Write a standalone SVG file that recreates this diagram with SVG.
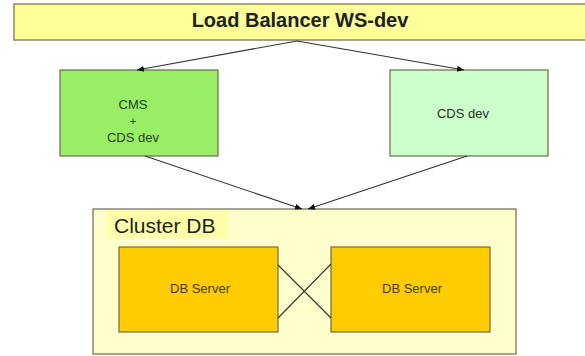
<svg xmlns="http://www.w3.org/2000/svg" width="585" height="356" viewBox="0 0 585 356">
<defs>
<marker id="ah" markerWidth="8" markerHeight="8" refX="7" refY="4" orient="auto" markerUnits="userSpaceOnUse">
<path d="M0,1 L7,4 L0,7 Z" fill="#111"/>
</marker>
<style>
.box{stroke:#6b6b50;stroke-width:1.2}
.t{font-family:"Liberation Sans",Arial,sans-serif;text-anchor:middle}
.conn{stroke:#333;stroke-width:1.1;fill:none}
</style>
</defs>
<rect width="585" height="356" fill="#ffffff"/>
<g id="lb">
<path d="M590,4 L14,4 L14,40 L590,40" fill="#ffff99" stroke="#8a8a60" stroke-width="1.5"/>
<text class="t" x="300" y="27" font-size="20" font-weight="bold" fill="#222">Load Balancer WS-dev</text>
</g>
<g id="cms">
<rect class="box" x="60" y="70" width="158" height="86" fill="#99ee66"/>
<text class="t" x="133" y="109" font-size="13" fill="#224422">CMS</text>
<text class="t" x="133" y="125" font-size="11" fill="#224422">+</text>
<text class="t" x="133" y="142" font-size="13" fill="#224422">CDS dev</text>
</g>
<g id="cds">
<rect class="box" x="390" y="70" width="158" height="86" fill="#ccffcc"/>
<text class="t" x="463" y="118" font-size="13" fill="#223322">CDS dev</text>
</g>
<g id="cluster">
<rect class="box" x="93" y="209" width="423" height="145" fill="#ffffcc"/>
<rect x="107" y="210" width="121" height="28" fill="#ffffaa"/>
<text x="114" y="233" font-size="21" fill="#222" font-family="Liberation Sans,Arial,sans-serif">Cluster DB</text>
</g>
<g id="db1">
<rect class="box" x="119" y="247" width="159" height="85" fill="#ffcc00"/>
<text class="t" x="200" y="293" font-size="13" fill="#4a3a00">DB Server</text>
</g>
<g id="db2">
<rect class="box" x="331" y="247" width="159" height="85" fill="#ffcc00"/>
<text class="t" x="412" y="293" font-size="13" fill="#4a3a00">DB Server</text>
</g>
<g id="connectors">
<line class="conn" x1="297" y1="41" x2="137" y2="70" marker-end="url(#ah)"/>
<line class="conn" x1="297" y1="41" x2="464" y2="70" marker-end="url(#ah)"/>
<line class="conn" x1="145" y1="156" x2="302" y2="209" marker-end="url(#ah)"/>
<line class="conn" x1="467" y1="156" x2="308" y2="209" marker-end="url(#ah)"/>
<line class="conn" x1="278" y1="265" x2="331" y2="318"/>
<line class="conn" x1="278" y1="318" x2="331" y2="264"/>
</g>
</svg>
